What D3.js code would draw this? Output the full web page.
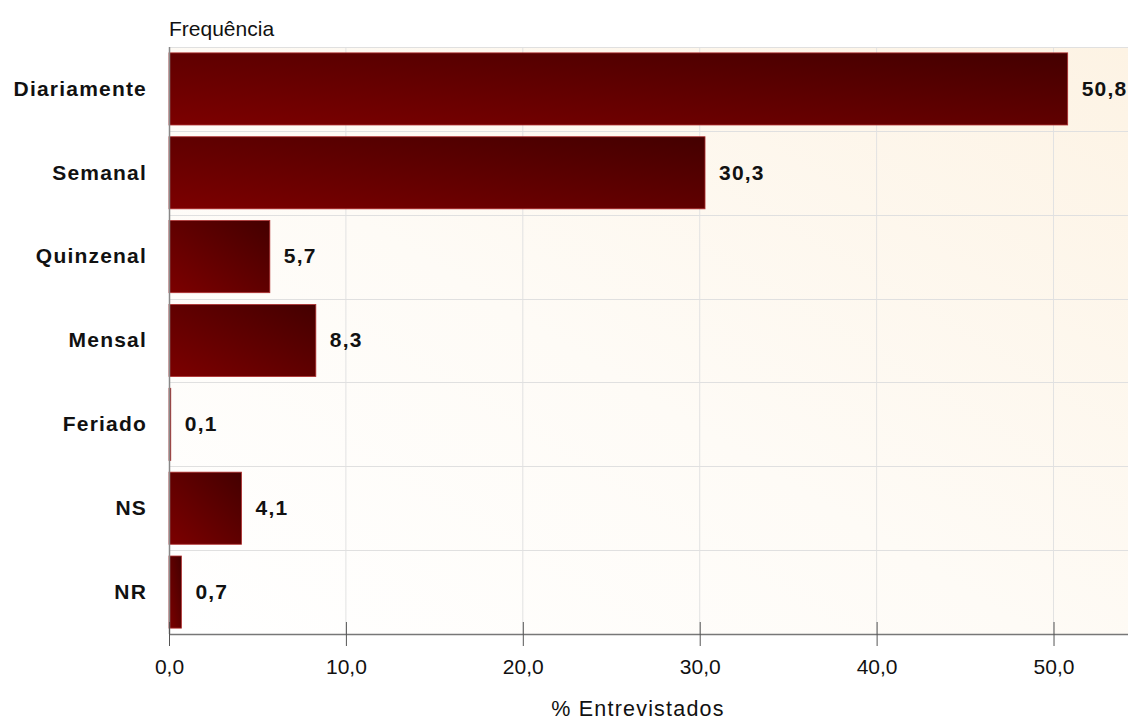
<!DOCTYPE html>
<html>
<head>
<meta charset="utf-8">
<script src="https://cdn.jsdelivr.net/npm/d3@7"></script>
<style>
  html, body { margin: 0; padding: 0; background: #fff; }
  svg { display: block; font-family: "Liberation Sans", Arial, sans-serif; }
</style>
</head>
<body>
<svg id="chart" width="1128" height="720"></svg>
<script>
// Frequência de visita — % de entrevistados
const categories = ["Diariamente", "Semanal", "Quinzenal", "Mensal", "Feriado", "NS", "NR"];
const values = [50.8, 30.3, 5.7, 8.3, 0.1, 4.1, 0.7];
const tickValues = [0, 10, 20, 30, 40, 50];

const fmt = v => d3.format(".1f")(v).replace(".", ",");

const svg = d3.select("#chart");
const margin = { top: 47, right: 0, bottom: 86, left: 169 };
const W = 1128, H = 720;
const iw = W - margin.left - margin.right;
const ih = H - margin.top - margin.bottom;

const defs = svg.append("defs");
const bg = defs.append("linearGradient").attr("id", "bgGrad")
  .attr("x1", 0).attr("y1", 1).attr("x2", 1).attr("y2", 0);
bg.append("stop").attr("offset", "0%").attr("stop-color", "#ffffff");
bg.append("stop").attr("offset", "45%").attr("stop-color", "#fefbf6");
bg.append("stop").attr("offset", "100%").attr("stop-color", "#fdf3e4");

const barGrad = defs.append("linearGradient").attr("id", "barGrad")
  .attr("x1", 0).attr("y1", 1).attr("x2", 1).attr("y2", 0);
barGrad.append("stop").attr("offset", "0%").attr("stop-color", "#7c0000");
barGrad.append("stop").attr("offset", "100%").attr("stop-color", "#440000");

const x = d3.scaleLinear().domain([0, 54.21]).range([0, iw]);
const y = d3.scaleBand().domain(categories).range([0, ih]).paddingInner(0.14).paddingOuter(0.07);

const g = svg.append("g").attr("transform", `translate(${margin.left},${margin.top})`);

g.append("rect").attr("width", iw).attr("height", ih).attr("fill", "url(#bgGrad)");

// vertical grid
g.append("g").selectAll("line").data(tickValues.slice(1)).join("line")
  .attr("x1", d => x(d)).attr("x2", d => x(d))
  .attr("y1", 0).attr("y2", ih)
  .attr("stroke", "#e2e2e2").attr("stroke-width", 1);

// horizontal band separators
const step = y.step();
g.append("g").selectAll("line").data([0].concat(categories.slice(1).map(c => y(c) - (step - y.bandwidth()) / 2))).join("line")
  .attr("x1", 0).attr("x2", iw)
  .attr("y1", d => Math.round(d) + 0.5).attr("y2", d => Math.round(d) + 0.5)
  .attr("stroke", "#e0e0e0");

// bars
g.append("g").selectAll("rect").data(values).join("rect")
  .attr("x", 0)
  .attr("y", (d, i) => y(categories[i]))
  .attr("width", d => x(d))
  .attr("height", y.bandwidth())
  .attr("fill", "url(#barGrad)")
  .attr("stroke", "#b03030").attr("stroke-width", 0.8);

// value labels
g.append("g").selectAll("text").data(values).join("text")
  .attr("x", d => x(d) + 14)
  .attr("y", (d, i) => y(categories[i]) + y.bandwidth() / 2)
  .attr("dy", "0.32em")
  .attr("font-size", 21).attr("font-weight", "bold").attr("letter-spacing", 1.2).attr("fill", "#111")
  .text(d => fmt(d));

// left axis line
g.append("line").attr("x1", 0.5).attr("x2", 0.5).attr("y1", 0).attr("y2", ih)
  .attr("stroke", "#888").attr("stroke-width", 1.5);

// category labels
g.append("g").selectAll("text").data(categories).join("text")
  .attr("x", -22)
  .attr("y", d => y(d) + y.bandwidth() / 2)
  .attr("dy", "0.32em")
  .attr("text-anchor", "end")
  .attr("font-size", 21).attr("font-weight", "bold").attr("letter-spacing", 1.2).attr("fill", "#111")
  .text(d => d);

// bottom axis
const xAxis = d3.axisBottom(x).tickValues(tickValues).tickFormat(fmt).tickSizeInner(12).tickSizeOuter(0).tickPadding(13);
const ax = g.append("g").attr("transform", `translate(0,${ih})`).call(xAxis);
ax.select(".domain").attr("stroke", "#777").attr("stroke-width", 1.5);
ax.selectAll(".tick line").attr("stroke", "#555").attr("y1", -12).attr("y2", 12);
ax.selectAll(".tick text").attr("font-size", 21).attr("fill", "#111")
  .attr("font-family", "'Liberation Sans', Arial, sans-serif");

svg.append("text").attr("x", 169).attr("y", 36)
  .attr("font-size", 21).attr("fill", "#111").text("Frequência");

svg.append("text").attr("x", 638).attr("y", 716)
  .attr("text-anchor", "middle").attr("font-size", 21.5).attr("letter-spacing", 1.2).attr("fill", "#111").text("% Entrevistados");
</script>
</body>
</html>
